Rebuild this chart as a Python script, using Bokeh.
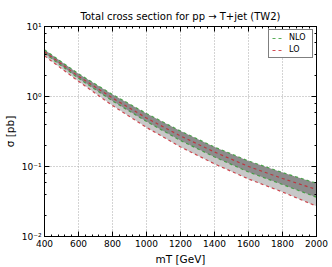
from bokeh.plotting import figure
from bokeh.models import (LinearAxis, LogAxis, SingleIntervalTicker, LogTicker,
                          CustomJSTickFormatter, Legend, LegendItem, Range1d)
from bokeh.embed import file_html
from bokeh.resources import INLINE

# data
m_T = [400, 600, 800, 1000, 1200, 1400, 1600, 1800, 2000]
nlo_up = [4.64, 2.11, 1.07, 0.572, 0.321, 0.190, 0.120, 0.0821, 0.0577]
nlo_down = [4.14, 1.82, 0.863, 0.440, 0.235, 0.137, 0.0834, 0.0553, 0.0364]
lo_up = [4.35, 1.94, 0.952, 0.493, 0.273, 0.161, 0.100, 0.0674, 0.0469]
lo_down = [3.81, 1.65, 0.743, 0.361, 0.190, 0.109, 0.0663, 0.0432, 0.0271]

FONT = "DejaVu Sans"
GREEN = "#2e9a2e"
RED = "#c8202a"

p = figure(width=332, height=267, output_backend="svg", toolbar_location=None,
           y_axis_type="log", x_range=Range1d(400, 2000), y_range=Range1d(0.01, 10),
           min_border_left=43, min_border_right=16, min_border_top=26, min_border_bottom=30,
           background_fill_color="white", border_fill_color="white")

bottom_axis = p.below[0]
left_axis = p.left[0]

p.title.text = "Total cross section for pp \u2192 T+jet (TW2)"
p.title.align = "center"
p.title.text_font = FONT
p.title.text_font_size = "10px"
p.title.text_font_style = "normal"
p.title.text_color = "black"
p.title.standoff = 10

p.outline_line_color = "black"
p.outline_line_width = 1

# bands
p.varea(x=m_T, y1=lo_down, y2=lo_up, fill_color="#c8c8c8", fill_alpha=1.0)
p.varea(x=m_T, y1=nlo_down, y2=nlo_up, fill_color="#8c8c8c", fill_alpha=1.0)

# dashed edges
g1 = p.line(m_T, nlo_up, line_color=GREEN, line_dash="3 3", line_width=1.2, line_alpha=0.8)
p.line(m_T, nlo_down, line_color=GREEN, line_dash="3 3", line_width=1.2, line_alpha=0.8)
r1 = p.line(m_T, lo_up, line_color=RED, line_dash="3 3", line_width=1.2, line_alpha=0.8)
p.line(m_T, lo_down, line_color=RED, line_dash="3 3", line_width=1.2, line_alpha=0.8)

legend = Legend(items=[LegendItem(label="NLO", renderers=[g1]),
                       LegendItem(label="LO", renderers=[r1])],
                location="top_right")
legend.label_text_font = FONT
legend.label_text_font_size = "8px"
legend.label_text_color = "black"
legend.glyph_width = 12
legend.glyph_height = 8
legend.label_height = 8
legend.label_standoff = 5
legend.spacing = 3
legend.padding = 3
legend.margin = 3
legend.border_line_color = "black"
legend.border_line_width = 1
legend.background_fill_color = "white"
legend.background_fill_alpha = 1.0
p.add_layout(legend)

# grid
for g in (p.xgrid, p.ygrid):
    g.grid_line_color = "#a8a8a8"
    g.grid_line_dash = "1 2"
    g.grid_line_width = 1

xticker = SingleIntervalTicker(interval=200, num_minor_ticks=5)
yticker = LogTicker()
bottom_axis.ticker = xticker
left_axis.ticker = yticker
p.xgrid.ticker = xticker
p.ygrid.ticker = yticker

fmt = CustomJSTickFormatter(code="""
const e = Math.round(Math.log10(tick));
const sup = {'-':'\u207b','0':'\u2070','1':'\u00b9','2':'\u00b2','3':'\u00b3','4':'\u2074','5':'\u2075','6':'\u2076','7':'\u2077','8':'\u2078','9':'\u2079'};
return '10' + String(e).split('').map(c => sup[c]).join('');
""")
left_axis.formatter = fmt

bottom_axis.axis_label = "mT [GeV]"
left_axis.axis_label = "\u03c3 [pb]"

blank = CustomJSTickFormatter(code="return '';")
top_axis = LinearAxis(ticker=xticker, formatter=blank)
right_axis = LogAxis(ticker=yticker, formatter=blank)
p.add_layout(top_axis, "above")
p.add_layout(right_axis, "right")

for ax in (bottom_axis, left_axis, top_axis, right_axis):
    ax.axis_line_color = "black"
    ax.major_tick_line_color = "black"
    ax.minor_tick_line_color = "black"
    ax.major_tick_in = 5
    ax.major_tick_out = 0
    ax.minor_tick_in = 2
    ax.minor_tick_out = 0
    ax.major_label_text_font = FONT
    ax.major_label_text_font_size = "9px"
    ax.major_label_text_color = "black"
    ax.axis_label_text_font = FONT
    ax.axis_label_text_font_size = "10.5px"
    ax.axis_label_text_font_style = "normal"
    ax.axis_label_text_color = "black"
    ax.major_label_standoff = 3
    ax.axis_label_standoff = 3

for ax in (top_axis, right_axis):
    ax.major_label_standoff = 0
    ax.major_label_text_font_size = "1px"
    ax.axis_label_standoff = 0

open("out.html", "w").write(file_html(p, INLINE))
